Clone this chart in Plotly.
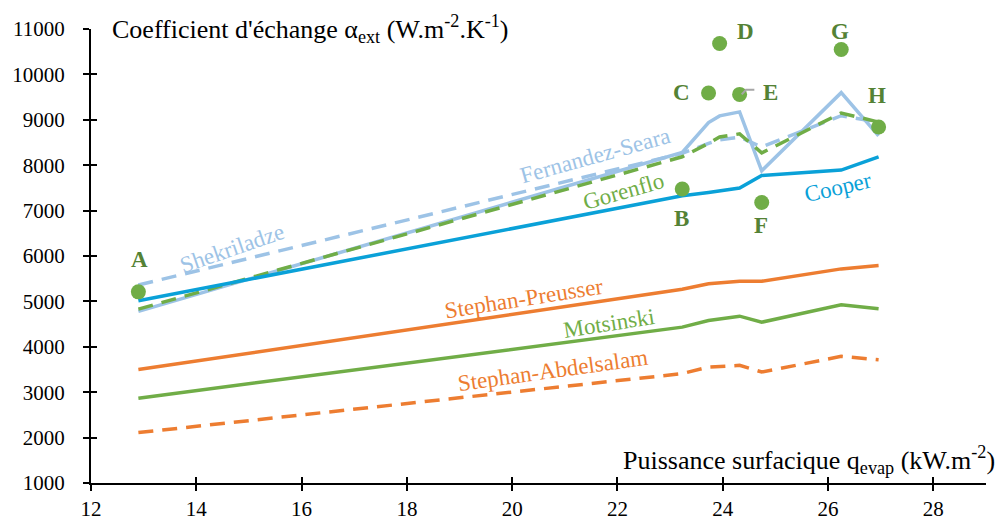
import plotly.graph_objects as go

# heat flux at each test point (kW/m2)
q_evap = [12.9, 23.23, 23.73, 23.94, 24.32, 24.74, 26.25, 26.96]

# experimental points A..H
point_labels = ["A", "B", "C", "D", "E", "F", "G", "H"]
alpha_exp = [5210, 7475, 9590, 10680, 9560, 7180, 10550, 8840]

# correlations evaluated at the same fluxes
cooper = [5015, 7327, 7400, 7437, 7497, 7774, 7892, 8185]
fernandez_seara = [4780, 8279, 8938, 9086, 9174, 7877, 9598, 8646]
shekriladze = [5360, 8262, 8480, 8560, 8620, 8400, 9090, 8950]
gorenflo = [4830, 8185, 8480, 8620, 8690, 8270, 9150, 8950]
stephan_preusser = [3500, 5266, 5387, 5409, 5444, 5444, 5716, 5789]
motsinski = [2868, 4433, 4580, 4618, 4675, 4543, 4925, 4837]
stephan_abdelsalam = [2110, 3409, 3554, 3569, 3591, 3444, 3789, 3716]

x_ticks = [12, 14, 16, 18, 20, 22, 24, 26, 28]
y_ticks = [1000, 2000, 3000, 4000, 5000, 6000, 7000, 8000, 9000, 10000, 11000]

ORANGE = "#ED7D31"
GREEN = "#70AD47"
DARK_GREEN = "#548235"
LIGHT_BLUE = "#9DC3E6"
BLUE = "#0AA1D8"
FONT = "Liberation Serif, Times New Roman, serif"
DASH = "15px,9px"

fig = go.Figure()

series = [
    (stephan_abdelsalam, ORANGE, DASH),
    (motsinski, GREEN, "solid"),
    (stephan_preusser, ORANGE, "solid"),
    (shekriladze, LIGHT_BLUE, DASH),
    (fernandez_seara, LIGHT_BLUE, "solid"),
    (gorenflo, GREEN, DASH),
    (cooper, BLUE, "solid"),
]
for vals, color, dash in series:
    fig.add_trace(go.Scatter(x=q_evap, y=vals, mode="lines",
                             line=dict(color=color, width=3.5, dash=dash),
                             showlegend=False, hoverinfo="skip"))

fig.add_trace(go.Scatter(x=q_evap, y=alpha_exp, mode="markers",
                         marker=dict(color=GREEN, size=15),
                         showlegend=False))

# empty trace to carry the inner half of the crossing ticks
fig.add_trace(go.Scatter(x=[], y=[], xaxis="x2", yaxis="y2", showlegend=False))

# series labels (x, y, text, colour, angle)
series_labels = [
    (14.68, 6163, "Shekriladze", LIGHT_BLUE, -19),
    (21.59, 8207, "Fernandez-Seara", LIGHT_BLUE, -15.5),
    (22.11, 7420, "Gorenflo", GREEN, -16),
    (26.18, 7510, "Cooper", BLUE, -13),
    (20.23, 5057, "Stephan-Preusser", ORANGE, -9),
    (21.83, 4508, "Motsinski", GREEN, -9),
    (20.77, 3481, "Stephan-Abdelsalam", ORANGE, -8),
]
for x, y, txt, col, ang in series_labels:
    fig.add_annotation(x=x, y=y, text=txt, showarrow=False, textangle=ang,
                       xanchor="center", yanchor="middle",
                       font=dict(family=FONT, size=23, color=col))

# point letters
letter_pos = [(12.92, 5921), (23.22, 6822), (23.21, 9598), (24.44, 10954),
              (24.91, 9598), (24.73, 6668), (26.23, 10954), (26.93, 9525)]
for (x, y), lab in zip(letter_pos, point_labels):
    fig.add_annotation(x=x, y=y, text="<b>%s</b>" % lab, showarrow=False,
                       xanchor="center", yanchor="middle",
                       font=dict(family=FONT, size=23, color=DARK_GREEN))

# leader line for E
fig.add_shape(type="path", path="M 24.36,9560 L 24.44,9660 L 24.60,9660",
              line=dict(color="#A6A6A6", width=2))

# axis titles
fig.add_annotation(xref="paper", yref="paper", x=0.021, y=1.0,
                   xanchor="left", yanchor="middle",
                   text="Coefficient d'échange α<sub>ext</sub> (W.m<sup>-2</sup>.K<sup>-1</sup>)",
                   showarrow=False, font=dict(family=FONT, size=26, color="black"))
fig.add_annotation(xref="paper", yref="paper", x=1.012, y=0.05,
                   xanchor="right", yanchor="middle",
                   text="Puissance surfacique q<sub>evap</sub> (kW.m<sup>-2</sup>)",
                   showarrow=False, font=dict(family=FONT, size=26, color="black"))

axis_common = dict(showgrid=False, zeroline=False, showline=True,
                   linecolor="black", linewidth=2, ticks="outside",
                   ticklen=6, tickwidth=1.5, tickcolor="black",
                   automargin=False,
                   tickfont=dict(family=FONT, size=21, color="black"))
inner_ticks = dict(ticks="inside", ticklen=6, tickwidth=1.5, tickcolor="black",
                   showticklabels=False, showgrid=False, zeroline=False,
                   showline=False, automargin=False)

# page body has an 8px margin, so the figure is sized to fit the window
fig.update_layout(
    width=995, height=514,
    margin=dict(l=83, r=17, t=21, b=39, pad=0),
    paper_bgcolor="white", plot_bgcolor="white",
    xaxis=dict(range=[12, 29], tickvals=x_ticks, **axis_common),
    yaxis=dict(range=[1000, 11000], tickvals=y_ticks,
               ticktext=[str(v) for v in y_ticks], ticklabelstandoff=14,
               **axis_common),
    xaxis2=dict(range=[12, 29], tickvals=x_ticks, overlaying="x",
                anchor="y2", **inner_ticks),
    yaxis2=dict(range=[1000, 11000], tickvals=y_ticks, overlaying="y",
                anchor="x2", **inner_ticks),
)

fig.write_html("out.html")
